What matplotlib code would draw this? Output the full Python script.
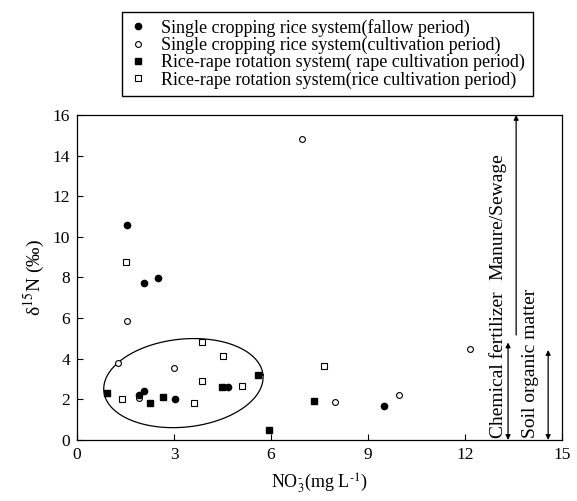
import numpy as np
import matplotlib
matplotlib.use('Agg')
import matplotlib.pyplot as plt

plt.rcParams['font.family'] = ['Liberation Serif', 'DejaVu Serif']
plt.rcParams['mathtext.fontset'] = 'stix'

# single cropping rice, fallow period (filled circles)
fallow_x = [1.54, 2.08, 2.5, 1.92, 2.08, 3.03, 4.68, 9.5]
fallow_y = [10.6, 7.72, 7.98, 2.2, 2.42, 2.0, 2.63, 1.68]
# single cropping rice, cultivation period (open circles)
cult_x = [6.95, 1.54, 1.28, 3.0, 1.92, 12.15, 7.99, 9.97]
cult_y = [14.82, 5.85, 3.8, 3.52, 2.08, 4.5, 1.88, 2.2]
# rice-rape rotation, rape cultivation (filled squares)
rape_x = [0.93, 2.26, 2.67, 4.48, 5.6, 5.94, 7.34]
rape_y = [2.3, 1.8, 2.1, 2.63, 3.22, 0.5, 1.9]
# rice-rape rotation, rice cultivation (open squares)
rice_x = [1.51, 1.38, 3.86, 4.52, 3.86, 3.63, 5.11, 7.64]
rice_y = [8.75, 2.0, 4.82, 4.12, 2.9, 1.8, 2.68, 3.62]

labels = ['Single cropping rice system(fallow period)',
          'Single cropping rice system(cultivation period)',
          'Rice-rape rotation system( rape cultivation period)',
          'Rice-rape rotation system(rice cultivation period)']

fig = plt.figure(figsize=(5.77, 5.01), dpi=100)
ax = fig.add_axes([0.1335, 0.1218, 0.8406, 0.6487])

ax.plot(cult_x, cult_y, 'o', mfc='white', mec='black', ms=4.2, mew=0.8, label=labels[1], zorder=3)
ax.plot(fallow_x, fallow_y, 'o', mfc='black', mec='black', ms=4.5, label=labels[0], zorder=4)
ax.plot(rape_x, rape_y, 's', mfc='black', mec='black', ms=4.3, label=labels[2], zorder=4)
ax.plot(rice_x, rice_y, 's', mfc='white', mec='black', ms=4.3, mew=0.8, label=labels[3], zorder=3)

ax.set_xlim(0, 15)
ax.set_ylim(0, 16)

# tilted ellipse round the low-value cluster (drawn in pixel space, then mapped back)
fig.canvas.draw()
sx = ax.bbox.width / 15.0
sy = ax.bbox.height / 16.0
t = np.linspace(0, 2 * np.pi, 300)
a, b, th = 80, 44, np.deg2rad(6)
ex = 3.29 + (a * np.cos(th) * np.cos(t) - b * np.sin(th) * np.sin(t)) / sx
ey = 2.8 + (a * np.sin(th) * np.cos(t) + b * np.cos(th) * np.sin(t)) / sy
ax.plot(ex, ey, color='black', lw=0.9)

ax.set_xticks([0, 3, 6, 9, 12, 15])
ax.set_yticks(range(0, 17, 2))
ax.tick_params(direction='in', labelsize=12.5, length=4, width=0.8, right=False, top=False, pad=5)
for s in ax.spines.values():
    s.set_linewidth(0.9)

ax.set_xlabel(r'NO$_3^{\text{-}}$(mg L$^{\text{-}1}$)', fontsize=13, labelpad=6)
ax.set_ylabel(r'δ$^{15}$N (‰)', fontsize=14, labelpad=4)

# source ranges
arr = dict(arrowstyle='<|-|>', color='black', lw=0.9, mutation_scale=7, shrinkA=0, shrinkB=0)
ax.annotate('', xy=(13.33, 0), xytext=(13.33, 4.8), arrowprops=arr)
ax.annotate('', xy=(14.57, 0), xytext=(14.57, 4.43), arrowprops=arr)
ax.annotate('', xy=(13.58, 16), xytext=(13.58, 5.17),
            arrowprops=dict(arrowstyle='-|>', color='black', lw=0.9, mutation_scale=7, shrinkA=0, shrinkB=0))
ax.text(13.02, 0.1, 'Chemical fertilizer', rotation=90, ha='center', va='bottom', fontsize=14)
ax.text(14.01, 0.12, 'Soil organic matter', rotation=90, ha='center', va='bottom', fontsize=14)
ax.text(13.02, 7.9, 'Manure/Sewage', rotation=90, ha='center', va='bottom', fontsize=14)

h, l = ax.get_legend_handles_labels()
order = [1, 0, 2, 3]
fig.legend([h[i] for i in order], [l[i] for i in order], loc='upper center',
           bbox_to_anchor=(0.567, 0.977), fontsize=13, frameon=True, fancybox=False,
           edgecolor='black', framealpha=1, handletextpad=0.8, labelspacing=0.0,
           borderpad=0.4, handlelength=1.0, borderaxespad=0)

fig.savefig('out.png', dpi=100)
